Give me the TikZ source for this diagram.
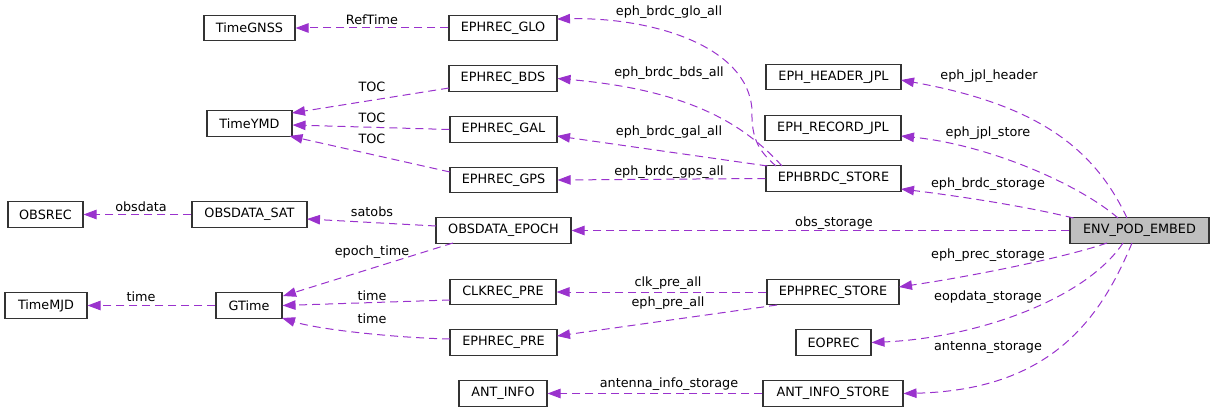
\documentclass[tikz,border=0pt]{standalone}
\usepackage{fontspec}
\setmainfont{DejaVu Sans}
\usetikzlibrary{arrows.meta,calc}
\definecolor{edgec}{HTML}{9A32CD}
\begin{document}
\begin{tikzpicture}[x=1pt,y=-1pt,
  every node/.style={font=\fontsize{12.8}{14}\selectfont},
  box/.style={draw=black!80,line width=1.1pt,fill=white,minimum height=25.5pt,inner sep=0pt,anchor=center},
  hbox/.style={box,fill=black!25},
  edge/.style={draw=edgec,line width=1pt,dash pattern=on 8pt off 5pt,-{Triangle[length=13pt,width=9.5pt]}},
  lbl/.style={inner sep=0pt,anchor=center}]
\useasboundingbox (0,0) rectangle (1215,412);
% nodes
\node[box,minimum width=91pt] (TimeGNSS) at (249.5,28) {TimeGNSS};
\node[box,minimum width=85pt] (TimeYMD) at (249.5,123.5) {TimeYMD};
\node[box,minimum width=108pt] (GLO) at (503,28) {EPHREC\_GLO};
\node[box,minimum width=108pt] (BDS) at (503,78.5) {EPHREC\_BDS};
\node[box,minimum width=107pt] (GAL) at (503.5,129.5) {EPHREC\_GAL};
\node[box,minimum width=107pt] (GPS) at (503.5,180) {EPHREC\_GPS};
\node[box,minimum width=135pt] (HJPL) at (833.5,77) {EPH\_HEADER\_JPL};
\node[box,minimum width=136pt] (RJPL) at (833,128) {EPH\_RECORD\_JPL};
\node[box,minimum width=135pt] (BRDC) at (833.5,178.5) {EPHBRDC\_STORE};
\node[box,minimum width=75pt] (OBSREC) at (45.5,214.5) {OBSREC};
\node[box,minimum width=115pt] (OSAT) at (249.5,214.5) {OBSDATA\_SAT};
\node[box,minimum width=82pt] (TimeMJD) at (46,305.5) {TimeMJD};
\node[box,minimum width=66pt] (GTime) at (249,305.5) {GTime};
\node[box,minimum width=135pt] (OEPOCH) at (503.5,230.5) {OBSDATA\_EPOCH};
\node[box,minimum width=106pt] (CLK) at (503,292) {CLKREC\_PRE};
\node[box,minimum width=107pt] (EPRE) at (503.5,342.5) {EPHREC\_PRE};
\node[box,minimum width=88pt] (ANT) at (503,393.5) {ANT\_INFO};
\node[hbox,minimum width=139pt] (ENV) at (1139.5,230.5) {ENV\_POD\_EMBED};
\node[box,minimum width=132pt] (PREC) at (833,292) {EPHPREC\_STORE};
\node[box,minimum width=75pt] (EOP) at (833.5,342.5) {EOPREC};
\node[box,minimum width=140pt] (ANTS) at (833,393.5) {ANT\_INFO\_STORE};
% edges
\draw[edge] (GLO.west) -- (TimeGNSS.east);
\draw[edge] ($(BDS)+(-54,9.5)$) -- ($(TimeYMD)+(42.5,-10.5)$);
\draw[edge] (GAL.west) -- ($(TimeYMD.east)+(0,1.5)$);
\draw[edge] ($(GPS)+(-53.5,-8)$) -- ($(TimeYMD)+(40,12.5)$);
\draw[edge] ($(BRDC)+(-57.5,-12.5)$) .. controls (760,152) and (751,140) .. (752,110) .. controls (748,45) and (650,17) .. ($(GLO)+(54,-9)$);
\draw[edge] ($(BRDC)+(-51.5,-12.5)$) .. controls (745,125) and (690,90) .. (BDS.east);
\draw[edge] ($(BRDC)+(-66,-12.5)$) -- ($(GAL)+(53.5,6.5)$);
\draw[edge] (BRDC.west) -- (GPS.east);
\draw[edge] ($(ENV)+(-12.5,-12.5)$) .. controls (1095,150) and (1040,105) .. ($(HJPL)+(67.5,3)$);
\draw[edge] ($(ENV)+(-21.5,-12.5)$) .. controls (1080,185) and (990,145) .. ($(RJPL)+(68,8)$);
\draw[edge] ($(ENV)+(-66,-12.5)$) .. controls (1020,205) and (950,195) .. ($(BRDC)+(67.5,10.5)$);
\draw[edge] (ENV.west) -- (OEPOCH.east);
\draw[edge] ($(ENV)+(-32.5,12.5)$) .. controls (1070,256) and (980,275) .. ($(PREC)+(66,-5)$);
\draw[edge] ($(ENV)+(-16.5,12.5)$) .. controls (1085,300) and (975,338) .. (EOP.east);
\draw[edge] ($(ENV)+(-7.5,12.5)$) .. controls (1100,320) and (1050,390) .. (ANTS.east);
\draw[edge] (PREC.west) -- (CLK.east);
\draw[edge] ($(PREC)+(-56,13)$) -- ($(EPRE)+(53.5,-6.5)$);
\draw[edge] (ANTS.west) -- (ANT.east);
\draw[edge] (OSAT.west) -- (OBSREC.east);
\draw[edge] ($(OEPOCH)+(-67.5,-4.5)$) -- ($(OSAT)+(57.5,4.5)$);
\draw[edge] ($(OEPOCH)+(-50.5,12.5)$) -- ($(GTime)+(34,-9.5)$);
\draw[edge] ($(CLK)+(-53,8)$) -- (GTime.east);
\draw[edge] ($(EPRE)+(-53.5,-3.5)$) .. controls (400,338) and (320,330) .. ($(GTime)+(33,12.5)$);
\draw[edge] (GTime.west) -- (TimeMJD.east);
% labels
\node[lbl] (l1) at (372,20) {RefTime};
\node[lbl] (l2) at (372,87) {TOC};
\node[lbl] (l3) at (372,118) {TOC};
\node[lbl] (l4) at (372,139) {TOC};
\node[lbl] (l5) at (669,12) {eph\_brdc\_glo\_all};
\node[lbl] (l6) at (669,73) {eph\_brdc\_bds\_all};
\node[lbl] (l7) at (669,132) {eph\_brdc\_gal\_all};
\node[lbl] (l8) at (669,172) {eph\_brdc\_gps\_all};
\node[lbl] (l9) at (989,76) {eph\_jpl\_header};
\node[lbl] (l10) at (988,133) {eph\_jpl\_store};
\node[lbl] (l11) at (988,184) {eph\_brdc\_storage};
\node[lbl] (l12) at (834,223) {obs\_storage};
\node[lbl] (l13) at (988,255) {eph\_prec\_storage};
\node[lbl] (l14) at (988,297) {eopdata\_storage};
\node[lbl] (l15) at (988,348) {antenna\_storage};
\node[lbl] (l16) at (668,283) {clk\_pre\_all};
\node[lbl] (l17) at (668,303) {eph\_pre\_all};
\node[lbl] (l18) at (669,384) {antenna\_info\_storage};
\node[lbl] (l19) at (141,207) {obsdata};
\node[lbl] (l20) at (372,212) {satobs};
\node[lbl] (l21) at (372,252) {epoch\_time};
\node[lbl] (l22) at (372,296) {time};
\node[lbl] (l23) at (372,319) {time};
\node[lbl] (l24) at (141,297) {time};
\end{tikzpicture}
\end{document}
